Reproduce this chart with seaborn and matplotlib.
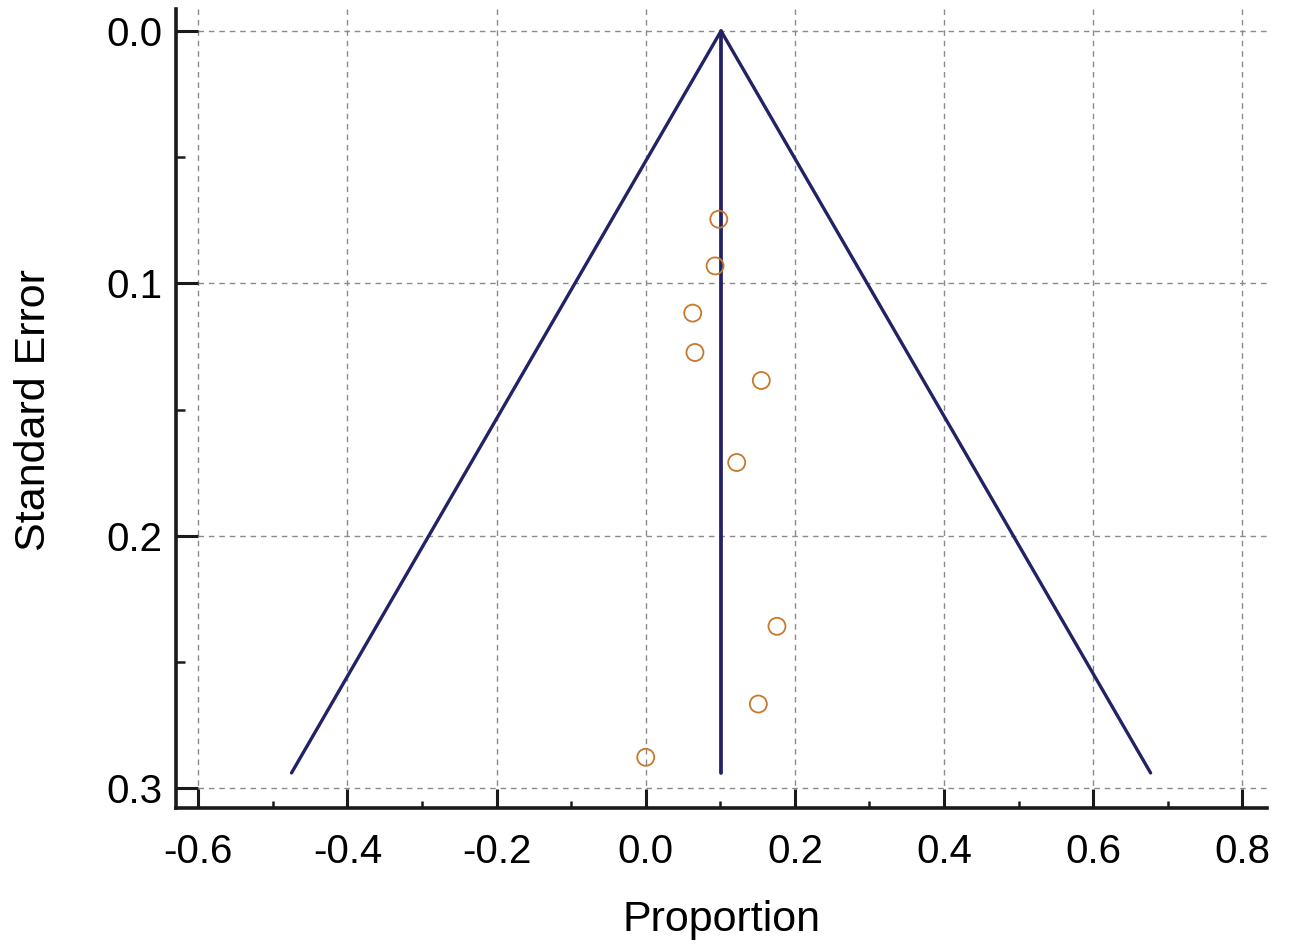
import numpy as np
import pandas as pd
import matplotlib
matplotlib.use("Agg")
import matplotlib.pyplot as plt
from matplotlib.ticker import FixedLocator, StrMethodFormatter
import seaborn as sns

# ---- data ----
study_prop = [0.098, 0.093, 0.063, 0.066, 0.155, 0.122, 0.176, 0.151, 0.000]
study_se = [0.0746, 0.0931, 0.1118, 0.1274, 0.1385, 0.1710, 0.2359, 0.2667, 0.2878]

pooled = 0.101
funnel_x = [-0.475, 0.101, 0.677]
funnel_se = [0.294, 0.0, 0.294]
center_x = [0.101, 0.101]
center_se = [0.0, 0.294]

x_major = [-0.6, -0.4, -0.2, 0.0, 0.2, 0.4, 0.6, 0.8]
x_minor = [-0.5, -0.3, -0.1, 0.1, 0.3, 0.5, 0.7]
y_major = [0.0, 0.1, 0.2, 0.3]
y_minor = [0.05, 0.15, 0.25]

sns.set_style("white")
plt.rcParams['font.family'] = ['Liberation Sans', 'DejaVu Sans']
plt.rcParams['axes.unicode_minus'] = False
plt.rcParams['text.color'] = 'black'
plt.rcParams['axes.labelcolor'] = 'black'
plt.rcParams['xtick.color'] = 'black'
plt.rcParams['ytick.color'] = 'black'

W, H = 1295, 947
fig = plt.figure(figsize=(W / 100, H / 100), dpi=100)
L, R, T, B = 176, 1267, 9, 808
ax = fig.add_axes([L / W, 1 - B / H, (R - L) / W, (B - T) / H])

xlo, xhi = -0.6299, 0.8331
ylo, yhi = -0.0087, 0.3079
ax.set_xlim(xlo, xhi)
ax.set_ylim(yhi, ylo)

# grid confined to the data region
grid_kw = dict(color="#8a8a8a", lw=1.0, linestyle=(0, (4, 3.5)), zorder=0)
ax.vlines(x_major, ymin=ylo, ymax=0.3, **grid_kw)
ax.hlines(y_major, xmin=-0.6, xmax=xhi, **grid_kw)

navy = "#232266"
df_f = pd.DataFrame({"x": funnel_x, "se": funnel_se})
sns.lineplot(data=df_f, x="x", y="se", sort=False, estimator=None,
             color=navy, lw=2.4, ax=ax, zorder=3)
df_c = pd.DataFrame({"x": center_x, "se": center_se})
sns.lineplot(data=df_c, x="x", y="se", sort=False, estimator=None,
             color=navy, lw=2.7, ax=ax, zorder=3)

df_s = pd.DataFrame({"p": study_prop, "se": study_se})
sns.scatterplot(data=df_s, x="p", y="se", ax=ax, s=150, facecolor="none",
                edgecolor="#c8782a", linewidth=1.3, zorder=4)

ax.xaxis.set_major_locator(FixedLocator(x_major))
ax.xaxis.set_minor_locator(FixedLocator(x_minor))
ax.yaxis.set_major_locator(FixedLocator(y_major))
ax.yaxis.set_minor_locator(FixedLocator(y_minor))
ax.xaxis.set_major_formatter(StrMethodFormatter("{x:.1f}"))
ax.yaxis.set_major_formatter(StrMethodFormatter("{x:.1f}"))

for s in ["top", "right"]:
    ax.spines[s].set_visible(False)
for s in ["left", "bottom"]:
    ax.spines[s].set_linewidth(2.6)
    ax.spines[s].set_color("#1a1a1a")

ax.tick_params(axis="x", which="major", direction="in", length=13.7, width=2.2,
               color="#1a1a1a", labelsize=29, pad=18, bottom=True, labelcolor="black")
ax.tick_params(axis="x", which="minor", direction="in", length=5, width=1.8,
               color="#1a1a1a", bottom=True)
ax.tick_params(axis="y", which="major", direction="in", length=15.8, width=2.2,
               color="#1a1a1a", labelsize=29, pad=10, left=True, labelcolor="black")
ax.tick_params(axis="y", which="minor", direction="in", length=6.5, width=1.8,
               color="#1a1a1a", left=True)

ax.set_xlabel("Proportion", fontsize=31, color="black")
ax.set_ylabel("Standard Error", fontsize=31, color="black")
ax.xaxis.set_label_coords(0.5, -0.115)
ax.yaxis.set_label_coords(-0.112, 0.498)

fig.savefig("out.png", dpi=100)
